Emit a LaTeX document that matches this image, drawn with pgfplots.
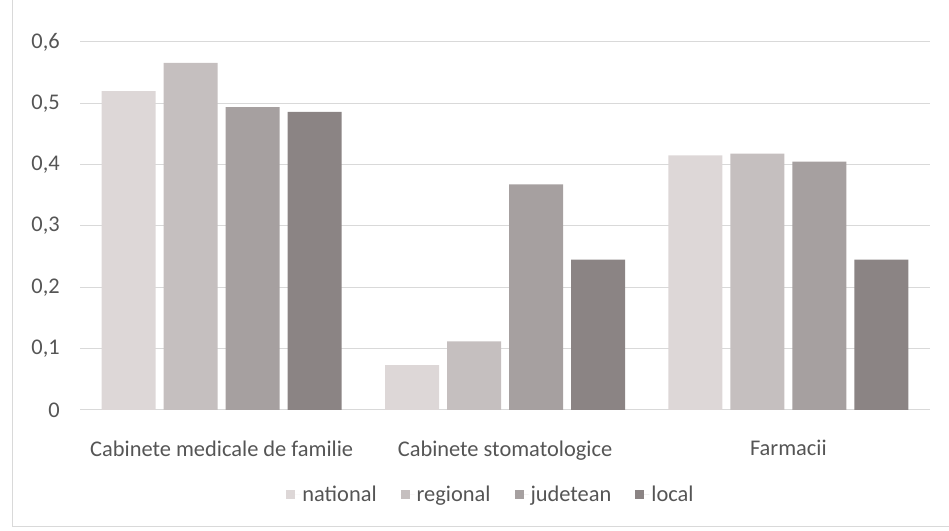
\documentclass[border=0pt]{standalone}
\usepackage{pgfplots}
\pgfplotsset{compat=1.18}
\usepackage{fontspec}
\setmainfont{Carlito}
\definecolor{cNat}{RGB}{221,215,215}
\definecolor{cReg}{RGB}{197,191,191}
\definecolor{cJud}{RGB}{166,160,160}
\definecolor{cLoc}{RGB}{139,132,132}
\definecolor{txt}{RGB}{85,85,85}
\definecolor{grid}{RGB}{217,217,217}
\begin{document}
\begin{tikzpicture}[x=1bp,y=1bp]
\path[use as bounding box] (0,0) rectangle (949,531);
\draw[color=grid, line width=1bp] (12,531) -- (12,4) -- (949,4);
\begin{axis}[
  at={(80bp,121bp)}, anchor=south west,
  width=850bp, height=368bp, scale only axis,
  xmin=-0.5, xmax=2.5, ymin=0, ymax=0.6,
  ybar=8bp, bar width=54bp,
  xtick={0,1,2},
  xticklabels={Cabinete medicale de familie, Cabinete stomatologice, Farmacii},
  ytick={0,0.1,0.2,0.3,0.4,0.5,0.6},
  ymajorgrids, grid style={color=grid, line width=1bp},
  axis line style={draw=none}, major tick style={draw=none},
  /pgf/number format/.cd, use comma, fixed, precision=1, assume math mode=true,
  /pgfplots/.cd,
  ticklabel style={font=\fontsize{22.5}{26}\selectfont, text=txt},
  yticklabel style={anchor=east, inner sep=0pt, xshift=-20bp},
  xticklabel style={anchor=north, inner sep=0pt, yshift=-26bp},
  legend columns=4,
  legend style={draw=none, fill=none, at={(0.4835,-0.229)}, anchor=center,
    font=\fontsize{22.5}{26}\selectfont, text=txt,
    /tikz/every even column/.append style={column sep=22bp},
    inner sep=0pt},
  legend image code/.code={\fill[#1] (0bp,-4.5bp) rectangle (9bp,4.5bp); \path (0bp,0bp) -- (14bp,0bp);},
]
\addplot[fill=cNat, draw=none] coordinates {(0,0.520) (1,0.073) (2,0.415)};
\addplot[fill=cReg, draw=none] coordinates {(0,0.566) (1,0.112) (2,0.418)};
\addplot[fill=cJud, draw=none] coordinates {(0,0.494) (1,0.368) (2,0.405)};
\addplot[fill=cLoc, draw=none] coordinates {(0,0.486) (1,0.245) (2,0.245)};
\legend{national, regional, judetean, local}
\end{axis}
\end{tikzpicture}
\end{document}
